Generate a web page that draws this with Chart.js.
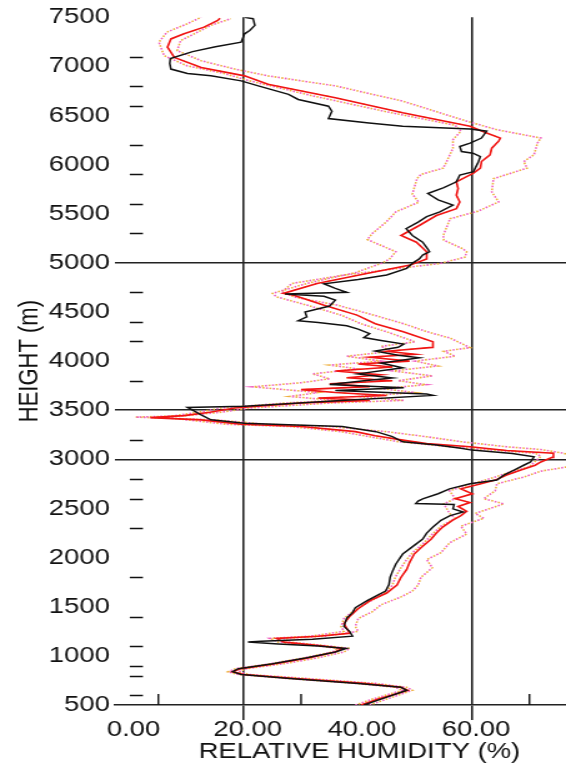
<!DOCTYPE html>
<html>
<head>
<meta charset="utf-8">
<style>
  html, body { margin: 0; padding: 0; background: #fff; overflow: hidden; }
  /* the plot is laid out on a narrower canvas and widened to the page */
  #wrap { width: 453px; height: 765px; transform: scaleX(1.2494); transform-origin: 0 0; }
</style>
<script src="https://cdn.jsdelivr.net/npm/chart.js@4.4.1/dist/chart.umd.min.js"></script>
</head>
<body>
<div id="wrap"><canvas id="c" width="453" height="765"></canvas></div>
<script>
// Relative humidity profiles: [height (m), RH (%)]
const observedRH = [
  [500,41.0],[560,44.0],[620,47.0],[650,48.5],[680,47.5],[720,40.0],[770,28.0],[810,19.5],[840,18.0],[870,19.0],
  [920,25.0],[980,31.0],[1040,36.0],[1075,37.9],[1100,33.0],[1120,26.0],[1140,20.7],[1150,23.0],[1170,32.0],[1200,39.0],
  [1250,38.5],[1300,37.5],[1385,38.0],[1440,39.0],[1490,39.5],[1560,41.5],[1620,43.5],[1660,44.8],[1726,45.4],[1800,45.6],
  [1860,46.0],[1935,46.6],[2036,47.8],[2102,49.3],[2189,51.3],[2250,52.0],[2311,53.1],[2380,54.5],[2427,56.1],[2464,58.4],
  [2496,56.6],[2540,56.8],[2550,50.1],[2575,50.5],[2598,51.3],[2650,54.0],[2700,56.0],[2752,59.6],[2789,64.3],[2840,65.5],
  [2891,67.3],[2940,69.0],[2974,70.2],[3026,70.8],[3060,67.0],[3094,59.9],[3112,58.0],[3145,53.7],[3179,47.8],[3231,46.0],
  [3282,43.1],[3334,37.2],[3351,27.8],[3367,20.1],[3402,14.2],[3452,12.5],[3500,11.0],[3528,10.1],[3540,20.1],[3600,37.0],
  [3651,53.1],[3665,52.0],[3680,45.0],[3700,36.0],[3730,48.0],[3761,35.0],[3800,41.0],[3829,46.0],[3870,40.0],[3932,47.8],
  [3980,44.0],[4034,50.7],[4060,47.0],[4102,43.0],[4140,47.0],[4173,48.0],[4210,44.0],[4240,41.0],[4280,42.0],[4325,40.0],
  [4360,38.0],[4394,33.0],[4411,29.5],[4450,31.0],[4500,30.7],[4560,35.0],[4620,36.0],[4660,34.0],[4684,27.2],[4700,38.0],
  [4740,36.0],[4787,34.0],[4830,40.0],[4877,45.0],[4944,48.5],[5000,49.6],[5040,50.7],[5080,51.3],[5113,52.5],[5141,52.2],
  [5210,51.3],[5278,49.5],[5347,48.4],[5415,50.5],[5470,52.0],[5519,54.3],[5587,56.6],[5640,54.0],[5706,52.2],[5765,55.0],
  [5825,57.2],[5894,57.8],[5928,60.2],[5964,60.5],[6020,61.0],[6082,61.4],[6116,60.1],[6133,58.1],[6184,57.8],[6219,59.6],
  [6270,61.6],[6340,62.5],[6362,59.6],[6391,47.8],[6424,41.9],[6468,34.8],[6543,35.4],[6594,34.8],[6663,29.5],[6715,27.8],
  [6801,22.5],[6852,19.5],[6903,14.2],[6927,10.1],[6972,7.2],[7030,7.0],[7080,7.1],[7150,11.0],[7200,15.0],[7246,19.5],
  [7331,20.1],[7365,21.0],[7417,21.9],[7485,21.6],[7500,20.1]
];

const meanRH = [
  [500,40.5],[560,43.5],[620,47.0],[650,48.7],[680,47.5],[720,41.0],[770,29.0],[810,20.0],[837,18.0],[870,19.5],
  [920,25.5],[980,31.5],[1040,36.0],[1076,37.2],[1100,34.0],[1140,27.0],[1178,25.7],[1200,33.0],[1230,38.5],[1280,38.0],
  [1330,37.5],[1400,38.5],[1480,40.0],[1560,42.0],[1640,45.0],[1720,46.8],[1800,47.5],[1880,48.5],[1950,49.0],[2036,49.8],
  [2100,51.0],[2189,52.8],[2250,53.7],[2311,54.8],[2380,56.5],[2427,58.0],[2470,59.0],[2520,57.5],[2560,59.6],[2600,57.0],
  [2650,60.0],[2700,58.0],[2752,61.5],[2789,64.0],[2840,66.0],[2891,68.5],[2940,71.0],[2974,72.0],[3020,74.0],[3063,74.2],
  [3090,66.0],[3128,59.6],[3160,52.0],[3196,47.8],[3240,43.0],[3282,39.5],[3334,30.1],[3357,19.5],[3402,12.5],[3425,3.6],
  [3445,9.5],[3480,14.0],[3522,18.4],[3573,30.1],[3600,42.0],[3625,33.0],[3650,45.0],[3680,36.0],[3710,30.0],[3740,42.0],
  [3770,35.0],[3800,46.0],[3830,38.0],[3860,44.0],[3900,36.0],[3940,46.0],[3970,40.0],[4000,49.0],[4040,42.0],[4070,50.0],
  [4100,45.0],[4140,53.0],[4196,53.1],[4298,47.9],[4380,43.0],[4468,39.8],[4570,33.9],[4671,28.7],[4689,26.9],[4790,32.8],
  [4892,41.5],[4977,49.1],[5040,52.0],[5112,52.0],[5210,50.2],[5278,47.5],[5380,50.7],[5482,53.7],[5551,57.2],[5620,57.8],
  [5688,57.2],[5757,57.5],[5825,57.2],[5913,60.2],[5964,61.4],[6031,61.6],[6099,63.1],[6167,63.4],[6238,64.6],[6270,64.9],
  [6322,62.5],[6391,59.6],[6527,47.8],[6681,36.0],[6818,24.2],[6903,20.1],[6989,12.5],[7091,7.8],[7195,6.6],[7279,7.2],
  [7331,9.5],[7399,13.0],[7467,15.4],[7490,15.8]
];

const lowerRH = [
  [500,39.5],[560,42.5],[620,46.0],[650,47.8],[680,46.5],[720,39.5],[770,27.5],[810,19.0],[837,17.2],[870,18.5],
  [920,24.5],[980,30.5],[1040,35.5],[1076,36.5],[1100,33.0],[1140,26.0],[1178,24.5],[1200,31.5],[1250,37.5],[1300,37.0],
  [1380,37.5],[1450,39.0],[1520,41.0],[1600,43.5],[1660,45.0],[1720,46.0],[1800,46.5],[1897,47.5],[1980,48.5],[2050,49.5],
  [2150,51.5],[2240,53.0],[2320,54.5],[2400,57.0],[2450,56.0],[2547,55.0],[2600,57.0],[2680,56.0],[2752,60.0],[2820,64.0],
  [2880,67.0],[2923,70.0],[2980,71.0],[3030,72.0],[3063,71.0],[3100,62.0],[3128,56.0],[3180,47.0],[3230,42.0],[3282,37.0],
  [3334,28.0],[3357,17.0],[3402,10.0],[3430,6.0],[3445,8.0],[3480,12.0],[3522,16.0],[3573,27.0],[3600,36.0],[3640,28.0],
  [3680,33.0],[3738,21.5],[3780,30.0],[3820,35.0],[3870,32.0],[3920,40.0],[3960,35.0],[4000,44.0],[4050,38.0],[4100,46.0],
  [4150,44.0],[4196,50.0],[4298,45.0],[4380,40.5],[4468,37.0],[4570,31.0],[4654,25.7],[4689,25.0],[4790,31.0],[4900,39.5],
  [5000,44.3],[5040,45.5],[5113,46.6],[5237,41.6],[5300,42.5],[5415,44.9],[5519,46.6],[5617,50.6],[5700,49.5],[5857,50.3],
  [5900,51.0],[5964,54.9],[6031,55.5],[6167,56.6],[6253,56.6],[6340,58.0],[6400,57.0],[6543,44.5],[6700,32.0],[6852,21.0],
  [6927,16.5],[7006,10.0],[7109,6.0],[7246,5.1],[7348,6.5],[7434,10.1],[7500,12.5]
];

const upperRH = [
  [500,42.0],[560,45.0],[620,48.0],[650,49.5],[680,48.5],[720,43.0],[770,31.0],[810,21.0],[837,19.0],[870,20.5],
  [920,27.0],[980,33.0],[1040,37.5],[1076,38.5],[1100,35.0],[1140,28.0],[1178,27.0],[1200,34.0],[1250,40.0],[1300,39.5],
  [1380,40.0],[1450,42.5],[1520,44.0],[1600,47.5],[1660,49.5],[1720,50.5],[1800,51.0],[1897,53.0],[1980,52.0],[2050,54.5],
  [2150,56.0],[2240,59.0],[2320,58.0],[2400,62.0],[2450,60.5],[2547,65.5],[2600,62.0],[2680,64.0],[2752,64.3],[2820,69.0],
  [2880,72.0],[2923,76.6],[2980,77.0],[3030,78.0],[3063,75.9],[3100,72.0],[3128,66.0],[3180,58.0],[3230,52.0],[3282,45.0],
  [3334,35.0],[3357,24.0],[3402,15.0],[3430,1.0],[3445,10.0],[3480,16.0],[3522,21.0],[3573,35.0],[3600,48.0],[3640,40.0],
  [3680,50.0],[3720,44.0],[3760,52.0],[3800,47.0],[3850,53.0],[3900,46.0],[3950,54.0],[4000,50.0],[4050,57.0],[4100,55.0],
  [4137,59.6],[4234,56.1],[4300,52.0],[4380,48.0],[4480,42.0],[4570,36.3],[4650,29.0],[4702,26.6],[4790,28.4],[4873,37.2],
  [4941,46.7],[4993,54.3],[5058,58.7],[5112,59.0],[5141,58.4],[5231,55.0],[5278,54.9],[5449,56.1],[5526,61.0],[5620,64.6],
  [5722,63.4],[5857,63.7],[5964,69.6],[6031,69.0],[6099,70.8],[6219,71.4],[6270,72.0],[6355,64.3],[6442,59.0],[6646,47.8],
  [6801,36.0],[6903,24.2],[6972,18.4],[7057,12.5],[7160,8.3],[7262,8.9],[7331,11.3],[7417,14.2],[7485,17.7]
];

// Axis ticks
const rhLabelTicks = [0, 20, 40, 60];
const rhGridTicks = [20, 60];
const rhMinorTicks = [5, 30, 70];
const heightGridTicks = [3000, 3500, 5000];
const levelMarks = [600, 800, 900, 1100, 1400, 1800, 2300, 2600, 2800, 3200, 3800, 4200, 4400, 4700, 5300, 5600, 5900, 6200, 6600, 6800, 7100];
const rhTitle = 'RELATIVE HUMIDITY (%)';

const FONT = "'Liberation Sans', Arial, sans-serif";
const toXY = rows => rows.map(([h, rh]) => ({ x: rh, y: h }));

// short marks: level dashes on the left, small upward ticks on the RH axis
const markPlugin = {
  id: 'marks',
  beforeDatasetsDraw(chart) {
    const { ctx, scales: { x, y } } = chart;
    ctx.save();
    ctx.strokeStyle = '#111';
    ctx.lineWidth = 1.4;
    ctx.beginPath();
    levelMarks.forEach(h => {
      const py = Math.round(y.getPixelForValue(h)) + 0.5;
      ctx.moveTo(x.getPixelForValue(0), py);
      ctx.lineTo(x.getPixelForValue(2.3), py);
    });
    rhMinorTicks.forEach(v => {
      const px = x.getPixelForValue(v);
      ctx.moveTo(px, y.getPixelForValue(500));
      ctx.lineTo(px, y.getPixelForValue(612));
    });
    ctx.stroke();
    ctx.restore();
  },
  // RH axis title, centred under the 40 % label
  afterDraw(chart) {
    const { ctx, scales: { x } } = chart;
    ctx.save();
    ctx.fillStyle = '#111';
    ctx.font = `22px ${FONT}`;
    ctx.textAlign = 'center';
    ctx.textBaseline = 'middle';
    ctx.fillText(rhTitle, x.getPixelForValue(40) + 1, 752);
    ctx.restore();
  }
};

const envStyle = (color, offset) => ({
  borderColor: color, borderWidth: 1.6, borderDash: [1.6, 4], borderDashOffset: offset,
  pointRadius: 0, showLine: true, tension: 0, order: 3
});

new Chart(document.getElementById('c'), {
  type: 'scatter',
  data: {
    datasets: [
      { label: 'Observed', data: toXY(observedRH), borderColor: '#111', borderWidth: 1.5, pointRadius: 0, showLine: true, order: 0 },
      { label: 'Mean', data: toXY(meanRH), borderColor: '#f01414', borderWidth: 1.6, pointRadius: 0, showLine: true, order: 1 },
      { label: 'Mean', data: toXY(meanRH), borderColor: '#ff9a1a', borderWidth: 1.0, borderDash: [3, 7], pointRadius: 0, showLine: true, order: 1 },
      Object.assign({ label: 'Lower', data: toXY(lowerRH) }, envStyle('#f060c0', 0)),
      Object.assign({ label: 'Lower', data: toXY(lowerRH) }, envStyle('#eeb040', 2.8)),
      Object.assign({ label: 'Upper', data: toXY(upperRH) }, envStyle('#f060c0', 0)),
      Object.assign({ label: 'Upper', data: toXY(upperRH) }, envStyle('#eeb040', 2.8))
    ]
  },
  options: {
    responsive: false,
    animation: false,
    layout: { padding: { left: 0, right: 0, top: 17, bottom: 0 } },
    plugins: { legend: { display: false }, tooltip: { enabled: false } },
    scales: {
      x: {
        type: 'linear', min: -2.6, max: 76.4,
        afterBuildTicks: s => { s.ticks = rhLabelTicks.map(v => ({ value: v })); },
        afterFit: s => { s.height = 60; },
        border: { display: true, color: '#222', width: 1.5 },
        grid: {
          color: c => rhGridTicks.includes(c.tick && c.tick.value) ? '#222' : 'rgba(0,0,0,0)',
          lineWidth: 1.6, drawTicks: true, tickLength: 15
        },
        ticks: {
          padding: -3, labelOffset: 3, color: '#111', maxRotation: 0, autoSkip: false,
          font: { family: FONT, size: 22 },
          callback: v => Number(v).toFixed(2)
        },
        title: { display: false }
      },
      y: {
        type: 'linear', min: 500, max: 7500,
        afterFit: s => { s.width = 92; },
        border: { display: false },
        grid: {
          color: c => heightGridTicks.includes(c.tick && c.tick.value) ? '#222' : 'rgba(0,0,0,0)',
          lineWidth: 1.5, drawTicks: false
        },
        ticks: {
          stepSize: 500, padding: 4, color: '#111', autoSkip: false,
          font: { family: FONT, size: 22 },
          callback: v => String(v)
        },
        title: {
          display: true, text: 'HEIGHT (m)', color: '#111',
          font: { family: FONT, size: 22, lineHeight: 1.0 }, padding: { top: 13, bottom: 0 }
        }
      }
    }
  },
  plugins: [markPlugin]
});
</script>
</body>
</html>
